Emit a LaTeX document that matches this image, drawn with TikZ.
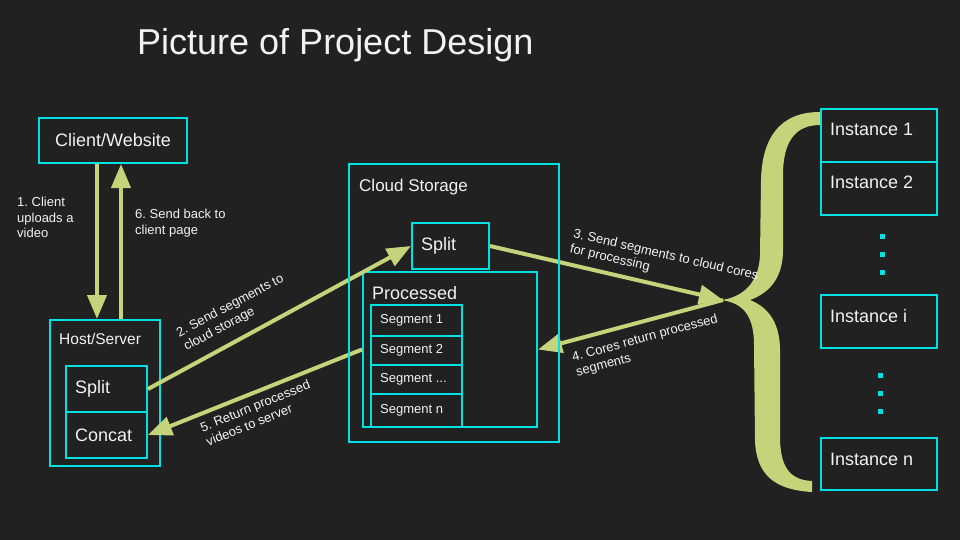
\documentclass[tikz,border=0pt]{standalone}
\usepackage{fontspec}
\setmainfont{Liberation Sans}
\usetikzlibrary{arrows.meta}
\definecolor{bg}{HTML}{212121}
\definecolor{cy}{RGB}{0,225,225}
\definecolor{gr}{RGB}{197,212,122}
\definecolor{tx}{HTML}{F2F2F2}
\frenchspacing
\begin{document}
\begin{tikzpicture}[x=1pt,y=-1pt,
  box/.style={draw=cy,line width=2pt,inner sep=0pt,anchor=north west,text=tx},
  arr/.style={draw=gr,line width=4pt,-{Triangle[length=24pt,width=19pt]}},
  lbl/.style={text=tx,font=\fontsize{13}{15.5}\selectfont,align=left,inner sep=0pt},
  tl/.style={anchor=base west,xshift=10pt,inner sep=0pt,text=tx},
  inl/.style={anchor=west,xshift=10pt,inner sep=0pt,text=tx},
  big/.style={font=\fontsize{18}{21}\selectfont},
  seg/.style={box,minimum width=91pt},
  inst/.style={box,minimum width=116pt}
]
\fill[bg] (0,0) rectangle (960,540);
\useasboundingbox (0,0) rectangle (960,540);

\node[font=\fontsize{36}{40}\selectfont,text=tx,anchor=base west,inner sep=0pt] (title) at (137,55) {Picture of Project Design};

% left column
\node[box,big,minimum width=148pt,minimum height=45pt] (client) at (38,117) {Client/Website};
\node[box,minimum width=110pt,minimum height=146pt,
  label={[tl,yshift=-25pt,font=\fontsize{15.5}{18}\selectfont]north west:Host/Server}] (host) at (49,319) {};
\node[box,minimum width=81pt,minimum height=46pt,label={[inl,big]west:Split}] (hsplit) at (65,365) {};
\node[box,minimum width=81pt,minimum height=46pt,label={[inl,big]west:Concat}] (concat) at (65,411) {};

% cloud storage (border drawn after the arrows)
\node[box,draw=none,minimum width=208pt,minimum height=276pt,
  label={[tl,yshift=-27pt,font=\fontsize{17}{20}\selectfont]north west:Cloud Storage}] (cloud) at (349,164) {};
\node[box,minimum width=77pt,minimum height=46pt,label={[inl,big]west:Split}] (csplit) at (411,222) {};
\node[box,minimum width=174pt,minimum height=155pt,
  label={[tl,yshift=-28pt,big]north west:Processed}] (proc) at (362,271) {};
\node[seg,minimum height=31pt,label={[inl,font=\fontsize{13}{15}\selectfont]west:Segment 1}] (s1) at (370,304) {};
\node[seg,minimum height=29pt,label={[inl,font=\fontsize{13}{15}\selectfont]west:Segment 2}] (s2) at (370,335) {};
\node[seg,minimum height=29pt,label={[inl,font=\fontsize{13}{15}\selectfont]west:Segment ...}] (s3) at (370,364) {};
\node[seg,minimum height=33pt,label={[inl,font=\fontsize{13}{15}\selectfont]west:Segment n}] (s4) at (370,393) {};

% instances
\node[inst,minimum height=53pt,label={[tl,yshift=-28pt,big]north west:Instance 1}] (i1) at (820,108) {};
\node[inst,minimum height=53pt,label={[tl,yshift=-28pt,big]north west:Instance 2}] (i2) at (820,161) {};
\node[inst,minimum height=53pt,label={[tl,yshift=-28pt,big]north west:Instance i}] (ii) at (820,294) {};
\node[inst,minimum height=52pt,label={[tl,yshift=-28pt,big]north west:Instance n}] (in) at (820,437) {};

% dots
\foreach \yy in {236,254,272} \fill[cy] (880,\yy-2.5) rectangle ++(5,5);
\foreach \yy in {375,393,411} \fill[cy] (878,\yy-2.5) rectangle ++(5,5);

% brace
\fill[gr] (820,112) .. controls (778,112) and (762,140) .. (761,180) -- (760,255)
  .. controls (759,285) and (740,298) .. (721,300)
  .. controls (745,303) and (754,318) .. (754,345) -- (755,440)
  .. controls (756,475) and (775,490) .. (812,492) -- (812,481)
  .. controls (792,480) and (781,470) .. (780,440) -- (780,350)
  .. controls (780,325) and (770,308) .. (750,300)
  .. controls (772,292) and (783,275) .. (783,250) -- (783,175)
  .. controls (783,142) and (795,125) .. (820,125) -- cycle;

\coordinate (tip) at (723,300);

% arrows
\draw[arr] ([xshift=59pt]client.south west) -- ([xshift=48pt]host.north west);
\draw[arr] ([xshift=72pt]host.north west) -- ([xshift=83pt]client.south west);
\draw[arr] (hsplit.east) -- (csplit.west);
\draw[arr] (csplit.east) -- (tip);
\draw[arr] (tip) -- (proc.east);
\draw[arr] (proc.west) -- (concat.east);

\draw[cy,line width=2pt] (cloud.north west) rectangle (cloud.south east);

% labels
\node[lbl,anchor=north west] (l1) at (17,197) {1. Client\\uploads a\\video};
\node[lbl,anchor=north west] (l6) at (135,209) {6. Send back to\\client page};
\node[lbl,rotate=28] (l2) at (234,313) {2. Send segments to\\cloud storage};
\node[lbl,rotate=-13] (l3) at (664,263) {3. Send segments to cloud cores\\for processing};
\node[lbl,rotate=15] (l4) at (647,346) {4. Cores return processed\\segments};
\node[lbl,rotate=22] (l5) at (258,413) {5. Return processed\\videos to server};
\end{tikzpicture}
\end{document}
